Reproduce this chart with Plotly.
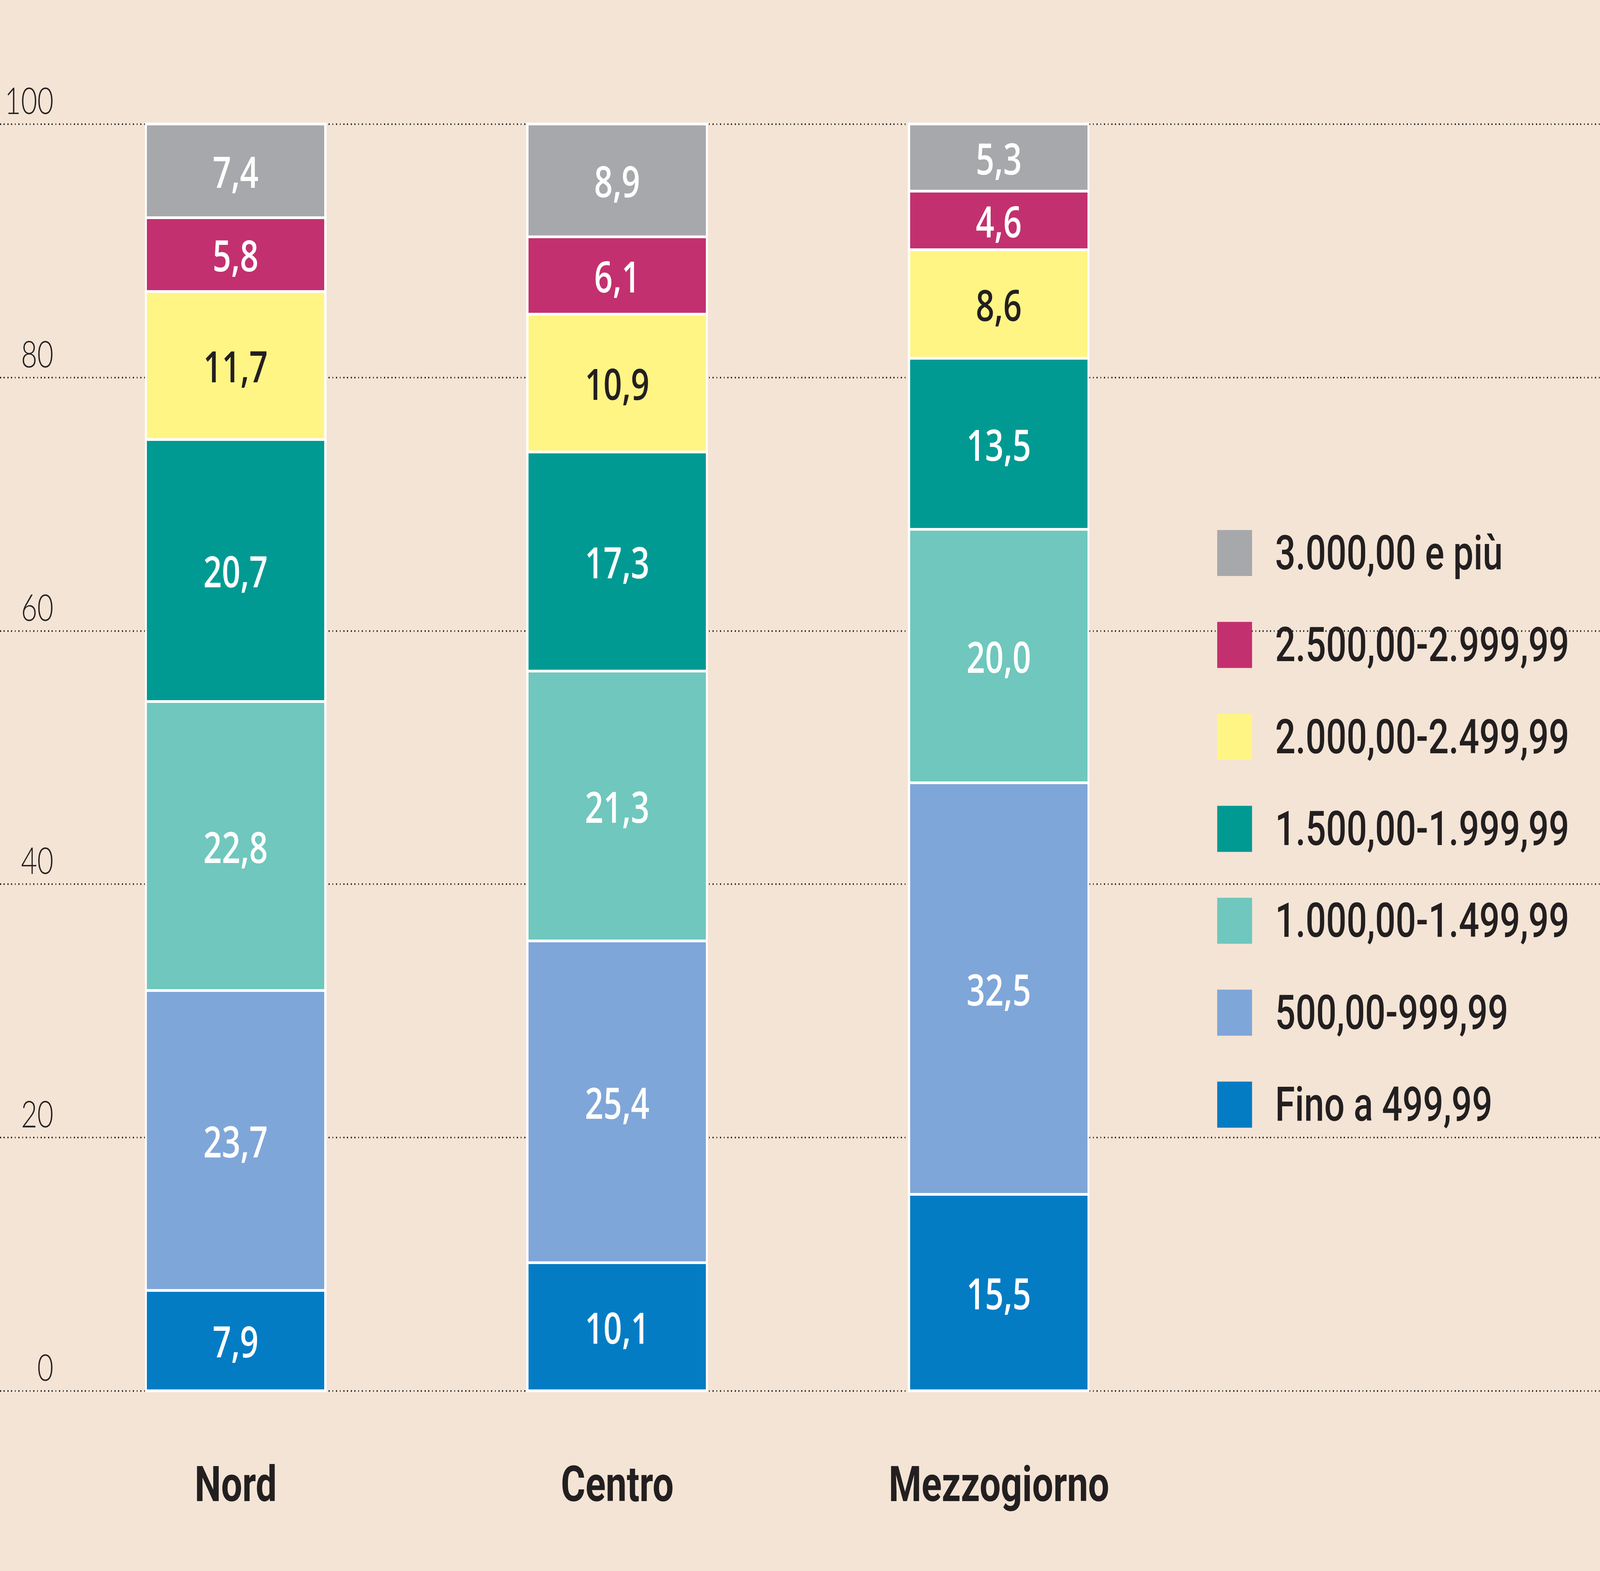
import plotly.graph_objects as go

# ---------------- data ----------------
regions = ["Nord", "Centro", "Mezzogiorno"]
bands = ["Fino a 499,99", "500,00-999,99", "1.000,00-1.499,99", "1.500,00-1.999,99",
         "2.000,00-2.499,99", "2.500,00-2.999,99", "3.000,00 e più"]
fino_499 = [7.9, 10.1, 15.5]
da_500 = [23.7, 25.4, 32.5]
da_1000 = [22.8, 21.3, 20.0]
da_1500 = [20.7, 17.3, 13.5]
da_2000 = [11.7, 10.9, 8.6]
da_2500 = [5.8, 6.1, 4.6]
da_3000 = [7.4, 8.9, 5.3]
y_ticks = [0, 20, 40, 60, 80, 100]

series = [fino_499, da_500, da_1000, da_1500, da_2000, da_2500, da_3000]
colors = ["#037cc4", "#7fa6d8", "#6fc7bd", "#009a93", "#fff585", "#c3306f", "#a7a8ab"]
label_colors = ["white", "white", "white", "white", "#231f20", "white", "white"]

# ---------------- geometry ----------------
W, H = 5417, 4023
Y0_PX, Y100_PX = 3562, 318          # pixel rows of 0 and 100
YMIN, YMAX = -1, 101
ppu = (Y0_PX - Y100_PX) / 100.0
plot_top = Y100_PX - (YMAX - 100) * ppu
plot_bot = Y0_PX + (0 - YMIN) * ppu
plot_h = plot_bot - plot_top

def py(p):
    return (plot_bot - p) / plot_h

def px(p):
    return p / W

BG = "#f4e4d5"
INK = "#231f20"

fig = go.Figure()
for vals, name, col, lc in zip(series, bands, colors, label_colors):
    fig.add_trace(go.Bar(
        x=regions, y=vals, name=name,
        marker=dict(color=col, line=dict(color="white", width=7)),
        width=0.47,
        text=[f"{v:.1f}".replace(".", ",") for v in vals],
        textposition="inside", insidetextanchor="middle", textangle=0,
        constraintext="none",
        insidetextfont=dict(family="Open Sans", size=110, color=lc, weight=600),
        hoverinfo="skip", showlegend=False,
    ))

# y tick labels (right aligned, above gridline)
for t in y_ticks:
    fig.add_annotation(xref="paper", yref="y", x=px(183), y=t, text=str(t),
                       xanchor="right", yanchor="bottom", yshift=4, showarrow=False,
                       font=dict(family="Lato", size=95, color=INK, weight=300))

# legend mask over gridlines
fig.add_shape(type="rect", xref="paper", yref="paper", layer="between",
              x0=px(4059), x1=px(5348), y0=py(2898), y1=py(1290),
              fillcolor=BG, line=dict(width=0))

# manual legend
sq = 118
for i, (name, col) in enumerate(zip(bands[::-1], colors[::-1])):
    cy = 1416 + i * 235.5
    fig.add_shape(type="rect", xref="paper", yref="paper", layer="above",
                  x0=px(4121), x1=px(4121 + sq), y0=py(cy + sq / 2), y1=py(cy - sq / 2),
                  fillcolor=col, line=dict(width=0))
    fig.add_annotation(xref="paper", yref="paper", x=px(4315), y=py(cy), text=name,
                       xanchor="left", yanchor="middle", showarrow=False,
                       font=dict(family="Roboto", size=122, color=INK, weight=500))

fig.update_layout(
    width=W, height=H,
    margin=dict(l=0, r=0, t=plot_top, b=H - plot_bot, pad=0),
    paper_bgcolor=BG, plot_bgcolor=BG,
    barmode="stack", bargap=0,
    showlegend=False,
    xaxis=dict(type="category", range=[-0.6176, 3.575], showgrid=False, showline=False,
               zeroline=False, ticks="", ticklabelstandoff=122,
               tickfont=dict(family="Roboto", size=127, color=INK, weight=700)),
    yaxis=dict(range=[YMIN, YMAX], tickvals=y_ticks, showticklabels=False,
               showgrid=True, gridcolor=INK, gridwidth=3.5, griddash="3.5px,9px",
               zeroline=False, showline=False, ticks=""),
)

# fit the fixed 5417x4023 figure into whatever viewport the browser provides
fit_js = """
document.documentElement.style.margin='0';
document.documentElement.style.overflow='hidden';
document.body.style.margin='0';
document.body.style.overflow='hidden';
var gd = document.getElementById('{plot_id}');
var sx = window.innerWidth / 5417, sy = window.innerHeight / 4023;
gd.style.transformOrigin = '0 0';
gd.style.transform = 'scale(' + sx + ',' + sy + ')';
"""

fig.write_html("out.html", config={"displayModeBar": False}, post_script=fit_js)
